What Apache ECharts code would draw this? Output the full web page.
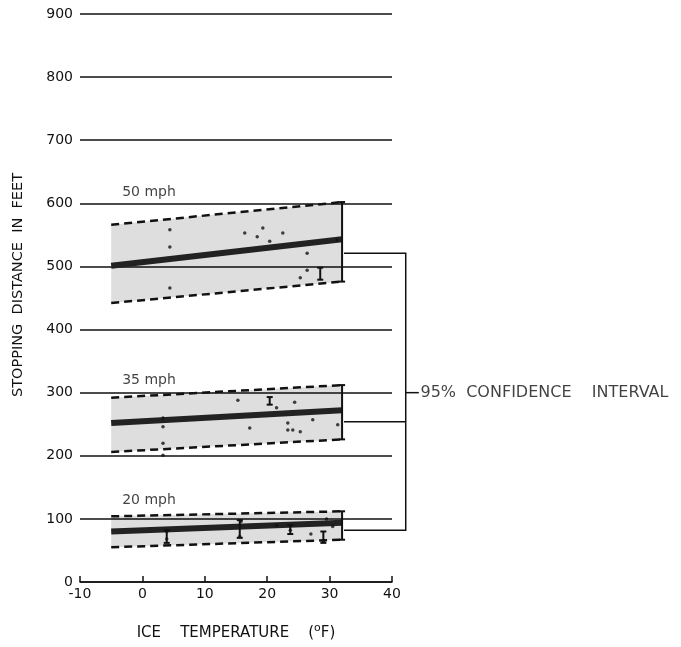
<!DOCTYPE html>
<html><head><meta charset="utf-8">
<script src="https://cdn.jsdelivr.net/npm/echarts@6/dist/echarts.min.js"></script>
<style>html,body{margin:0;padding:0;background:#fff}#c{width:681px;height:647px}</style>
</head><body><div id="c"></div>
<script>
// ---- data ----
const xTicks = [-10, 0, 10, 20, 30, 40];
const yTicks = [0, 100, 200, 300, 400, 500, 600, 700, 800, 900];
const speedLabels = ['50 mph', '35 mph', '20 mph'];
const speedLabelPos = [[-3.4, 618], [-3.4, 320], [-3.4, 130]];
const fitTemps = [-5, 32];
const upper50 = [566, 602], fit50 = [501, 543], lower50 = [442, 476];
const upper35 = [292, 312], fit35 = [252, 272], lower35 = [206, 226];
const upper20 = [104, 112], fit20 = [80, 94], lower20 = [55, 67];
const points50 = [[4.4, 558], [4.4, 531], [4.4, 466], [16.4, 553], [18.4, 547], [19.3, 561], [20.4, 540], [22.5, 553], [26.4, 521], [26.4, 494], [25.3, 482], [31.2, 542]];
const points35 = [[3.3, 260], [3.3, 246], [3.3, 220], [3.3, 201], [15.3, 288], [17.2, 244], [21.5, 276], [24.4, 285], [23.3, 252], [23.3, 241], [24.1, 241], [25.3, 238], [27.3, 257], [31.3, 249]];
const points20 = [[3.9, 68], [3.9, 80], [15.6, 72], [15.8, 96], [21.5, 90], [23.7, 82], [27, 76], [29, 65], [29.5, 100], [30.5, 88]];
const errorBars = [[32, 476, 602], [32, 226, 312], [32, 67, 112], [28.5, 479, 498], [20.4, 281, 293], [3.9, 62, 82], [15.6, 70, 98], [23.7, 76, 90], [29, 62, 80]];
const bracketTemp = 42.2;
const bracketLevels = [521, 254, 82];
const bracketLabelLevel = 300;
const bracketLabel = '95%  CONFIDENCE    INTERVAL';

// ---- build ----
const bands = [[upper50, lower50], [upper35, lower35], [upper20, lower20]];
const fits = [fit50, fit35, fit20];
const seg = arr => [[fitTemps[0], arr[0]], [fitTemps[1], arr[1]]];
const black = '#111';
const font = "'DejaVu Sans', Arial, sans-serif";

const series = [];
series.push({
  type: 'custom', z: 1, silent: true,
  data: bands.map((b, i) => [i]),
  renderItem: (params, api) => {
    const b = bands[api.value(0)];
    const pts = [api.coord([fitTemps[0], b[0][0]]), api.coord([fitTemps[1], b[0][1]]),
                 api.coord([fitTemps[1], b[1][1]]), api.coord([fitTemps[0], b[1][0]])];
    return { type: 'polygon', shape: { points: pts }, style: { fill: 'rgba(0,0,0,0.13)' } };
  }
});
bands.forEach(b => {
  b.forEach(edge => series.push({
    type: 'line', data: seg(edge), symbol: 'none', z: 3,
    lineStyle: { color: black, width: 2.5, type: [8, 5] }
  }));
});
fits.forEach(f => series.push({
  type: 'line', data: seg(f), symbol: 'none', z: 4,
  lineStyle: { color: '#222', width: 6 }
}));
series.push({
  type: 'custom', z: 5, silent: true,
  data: errorBars,
  renderItem: (params, api) => {
    const lo = api.coord([api.value(0), api.value(1)]);
    const hi = api.coord([api.value(0), api.value(2)]);
    const st = { stroke: black, lineWidth: 2 };
    return { type: 'group', children: [
      { type: 'line', shape: { x1: lo[0], y1: lo[1], x2: hi[0], y2: hi[1] }, style: st },
      { type: 'line', shape: { x1: lo[0] - 3, y1: lo[1], x2: lo[0] + 3, y2: lo[1] }, style: st },
      { type: 'line', shape: { x1: hi[0] - 3, y1: hi[1], x2: hi[0] + 3, y2: hi[1] }, style: st }
    ] };
  }
});
series.push({
  type: 'scatter', z: 6, symbolSize: 3.5, itemStyle: { color: black },
  data: points50.concat(points35, points20)
});
// bracket (custom series so it is not clipped to the grid)
series.push({
  type: 'custom', z: 5, silent: true, clip: false,
  data: [[0]],
  renderItem: (params, api) => {
    const st = { stroke: black, lineWidth: 1.5, fill: null };
    const x0 = fitTemps[1] + 0.3;
    const p = (x, y) => api.coord([x, y]);
    return { type: 'group', children: [
      { type: 'polyline', shape: { points: [p(x0, bracketLevels[0]), p(bracketTemp, bracketLevels[0]), p(bracketTemp, bracketLevels[2]), p(x0, bracketLevels[2])] }, style: st },
      { type: 'polyline', shape: { points: [p(x0, bracketLevels[1]), p(bracketTemp, bracketLevels[1])] }, style: st },
      { type: 'polyline', shape: { points: [p(bracketTemp, bracketLabelLevel), p(bracketTemp + 2.1, bracketLabelLevel)] }, style: st }
    ] };
  }
});
series.push({
  type: 'scatter', clip: false, symbolSize: 0, z: 7, silent: true,
  data: [{ value: [bracketTemp + 2.2, bracketLabelLevel], name: bracketLabel, label: { fontSize: 16 } }]
    .concat(speedLabels.map((s, i) => ({ value: speedLabelPos[i], name: s }))),
  label: { show: true, position: 'right', distance: 1, formatter: p => p.name, color: black, fontFamily: font, fontSize: 14 }
});

const chart = echarts.init(document.getElementById('c'), null, { renderer: 'canvas' });
chart.setOption({
  animation: false,
  backgroundColor: '#fff',
  grid: { left: 80, right: 289, top: 14, bottom: 65 },
  xAxis: {
    type: 'value', min: xTicks[0], max: xTicks[xTicks.length - 1], interval: 10,
    axisLine: { show: true, lineStyle: { color: black, width: 1.5 } },
    axisTick: { show: true, inside: true, length: 6, lineStyle: { color: black, width: 1.5 } },
    axisLabel: { color: black, fontSize: 14, fontFamily: font, margin: 5 },
    splitLine: { show: false },
    name: '{a|ICE    TEMPERATURE    (}{s|o}{a|F)}',
    nameLocation: 'middle', nameGap: 41,
    nameTextStyle: { rich: { a: { fontSize: 15, fontFamily: font, color: black }, s: { fontSize: 11, fontFamily: font, color: black, verticalAlign: 'top', padding: [0, 0, 9, 0] } } }
  },
  yAxis: {
    type: 'value', min: yTicks[0], max: yTicks[yTicks.length - 1], interval: 100,
    axisLine: { show: false }, axisTick: { show: false },
    axisLabel: { color: black, fontSize: 14, fontFamily: font, margin: 7 },
    splitLine: { show: true, lineStyle: { color: black, width: 1.5 } }
  },
  graphic: [{
    type: 'text', x: 18, y: 285, rotation: Math.PI / 2,
    style: { text: 'STOPPING  DISTANCE  IN  FEET', fontSize: 14.5, fontFamily: font, fill: black, align: 'center', verticalAlign: 'middle' }
  }],
  series
});
</script></body></html>
